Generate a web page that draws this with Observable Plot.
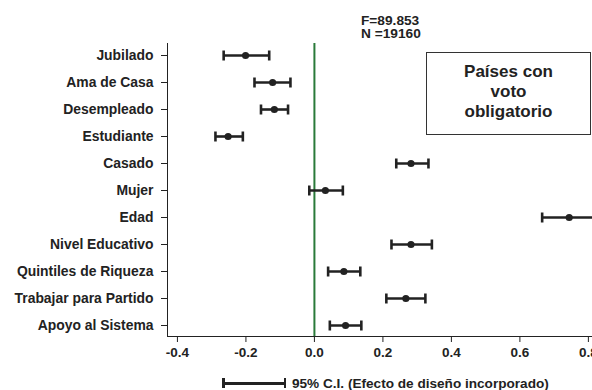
<!DOCTYPE html>
<html>
<head>
<meta charset="utf-8">
<script src="https://cdn.jsdelivr.net/npm/d3@7"></script>
<script src="https://cdn.jsdelivr.net/npm/@observablehq/plot@0.6"></script>
<style>
  html, body { margin: 0; padding: 0; background: #fff; overflow: hidden; }
  #wrap { position: relative; width: 592px; height: 390px; font-family: "Liberation Sans", Arial, sans-serif; font-weight: bold; color: #222; }
  #stats { position: absolute; left: 361px; top: 14px; font-size: 13.7px; line-height: 13px; white-space: pre; }
  #box { position: absolute; left: 426px; top: 52px; width: 165px; height: 83px; box-sizing: border-box; border: 1px solid #333; text-align: center; font-size: 17px; line-height: 20px; padding-top: 9px; }
  #legend { position: absolute; left: 222px; top: 374px; height: 18px; display: flex; align-items: center; font-size: 13.6px; white-space: nowrap; }
  #legend .bar { position: relative; width: 64px; height: 10px; margin-right: 6px; }
  #legend .bar .h { position: absolute; left: 0; right: 0; top: 4px; height: 2.5px; background: #222; }
  #legend .bar .c1, #legend .bar .c2 { position: absolute; top: 0; width: 2.5px; height: 10px; background: #222; }
  #legend .bar .c1 { left: 0; }
  #legend .bar .c2 { right: 0; }
</style>
</head>
<body>
<div id="wrap">
  <div id="chart"></div>
  <div id="stats"></div>
  <div id="box"></div>
  <div id="legend"><div class="bar"><div class="h"></div><div class="c1"></div><div class="c2"></div></div><span id="legendText"></span></div>
</div>
<script>
const categories = ["Jubilado", "Ama de Casa", "Desempleado", "Estudiante", "Casado", "Mujer", "Edad", "Nivel Educativo", "Quintiles de Riqueza", "Trabajar para Partido", "Apoyo al Sistema"];
const estimates = [-0.201, -0.122, -0.117, -0.252, 0.282, 0.032, 0.744, 0.282, 0.086, 0.267, 0.091];
const lower = [-0.265, -0.175, -0.156, -0.289, 0.239, -0.015, 0.665, 0.225, 0.040, 0.210, 0.045];
const upper = [-0.132, -0.070, -0.077, -0.209, 0.333, 0.083, 0.823, 0.343, 0.134, 0.324, 0.137];
const xTicks = [-0.4, -0.2, 0.0, 0.2, 0.4, 0.6, 0.8];
const xDomain = [-0.429, 0.812];
const statsLines = ["F=89.853", "N =19160"];
const boxLines = ["Países con", "voto", "obligatorio"];
const legendLabel = "95% C.I. (Efecto de diseño incorporado)";

const rows = categories.map((c, i) => ({cat: c, est: estimates[i], lo: lower[i], hi: upper[i]}));

const capSymbol = {
  draw(context) {
    context.moveTo(0, -5);
    context.lineTo(0, 5);
  }
};

const chart = Plot.plot({
  width: 592,
  height: 390,
  marginLeft: 167,
  marginRight: 0,
  marginTop: 43,
  marginBottom: 54,
  style: {fontFamily: "'Liberation Sans', Arial, sans-serif", fontWeight: "bold", fontSize: "13.5px", color: "#222", background: "#fff"},
  x: {domain: xDomain, ticks: xTicks, tickFormat: d => d.toFixed(1), label: null, line: true, tickSize: 6, tickPadding: 5},
  y: {type: "point", domain: categories, padding: 0.33, label: null, line: true, tickSize: 6, tickPadding: 8},
  marks: [
    Plot.ruleX([0], {stroke: "#2a7a3a", strokeWidth: 2}),
    Plot.link(rows, {x1: "lo", x2: "hi", y1: "cat", y2: "cat", stroke: "#222", strokeWidth: 2.6, clip: true}),
    Plot.dot(rows, {x: "lo", y: "cat", symbol: capSymbol, stroke: "#222", fill: "none", strokeWidth: 2.6, clip: true}),
    Plot.dot(rows, {x: "hi", y: "cat", symbol: capSymbol, stroke: "#222", fill: "none", strokeWidth: 2.6, clip: true}),
    Plot.dot(rows, {x: "est", y: "cat", r: 3.6, fill: "#222", stroke: "none"})
  ]
});
d3.select(chart)
  .selectAll('[aria-label="y-axis tick label"] text, [aria-label="y-axis"] text, g[aria-label="y-axis tick label"]')
  .style("font-size", "13.9px");
d3.select(chart).selectAll('[aria-label="y-axis"] path, [aria-label="y-axis line"]').attr("stroke", "#777");
document.getElementById("chart").appendChild(chart);
document.getElementById("stats").textContent = statsLines.join("\n");
document.getElementById("box").innerHTML = boxLines.map(s => `<div>${s}</div>`).join("");
document.getElementById("legendText").textContent = legendLabel;
</script>
</body>
</html>
